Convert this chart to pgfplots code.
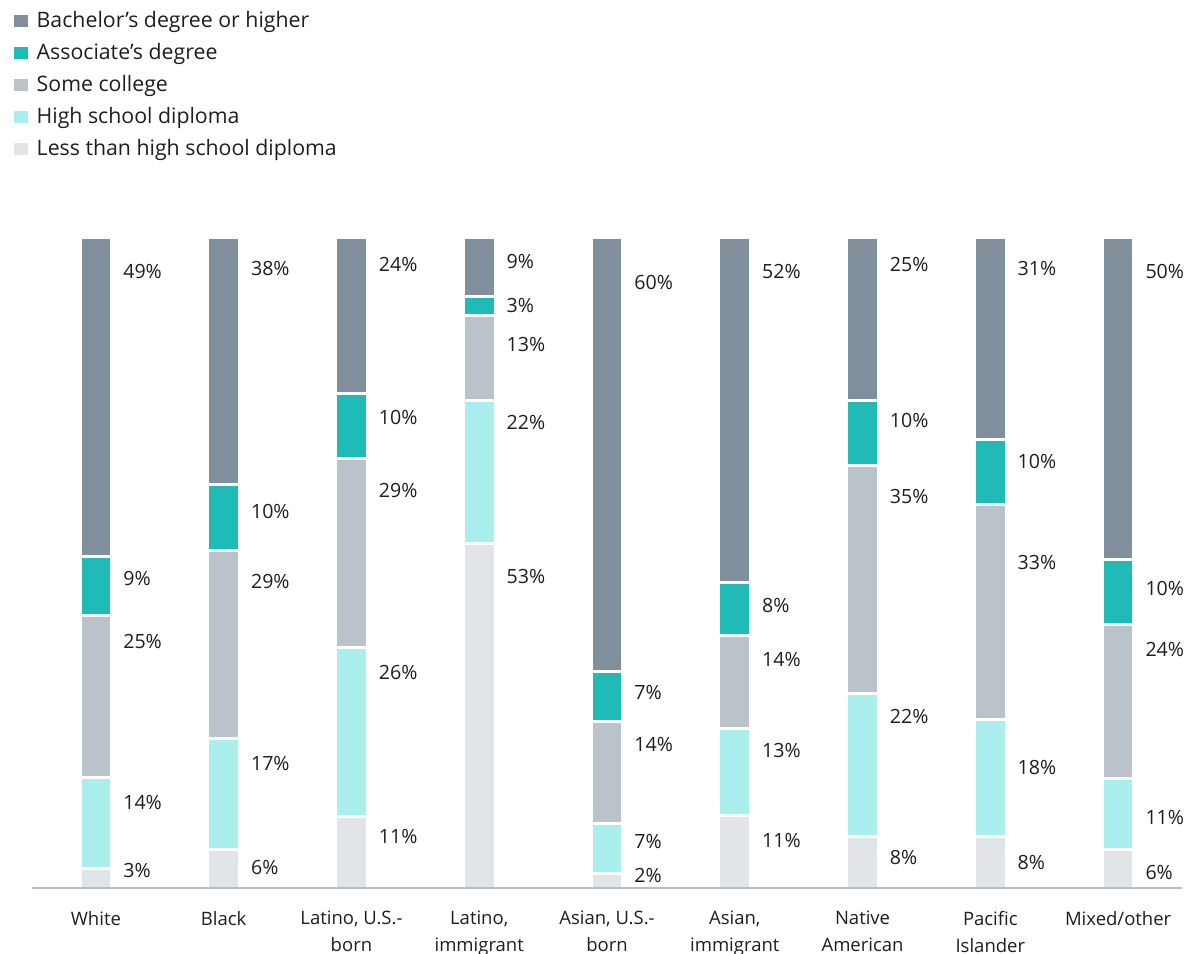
\documentclass[border=0pt]{standalone}
\usepackage{fontspec}
\setmainfont{Open Sans}
\usepackage{pgfplots}
\usepackage{pgfplotstable}
\pgfplotsset{compat=1.18}
\definecolor{cBach}{HTML}{7F909C}
\definecolor{cAssoc}{HTML}{20BBB7}
\definecolor{cSome}{HTML}{B9C3C9}
\definecolor{cHS}{HTML}{AAEFEE}
\definecolor{cLess}{HTML}{E2E5E8}
\definecolor{cAxis}{HTML}{B4BFC6}
\definecolor{cText}{HTML}{1E1E1E}

% bar heights (segments normalised to 100 per bar, as drawn)
\pgfplotstableread{
x less hs some assoc bach
0 3 14 25 9 49
1 6 17 29 10 38
2 11 26 29 10 24
3 53 22 13 3 9
4 2.22 7.78 15.56 7.78 66.67
5 11.22 13.27 14.29 8.16 53.06
6 8 22 35 10 25
7 8 18 33 10 31
8 5.94 10.89 23.76 9.91 49.50
}\bars

% printed labels and their vertical positions
\pgfplotstableread{
x y lab
0 94.77 49
0 47.54 9
0 37.85 25
0 13.23 14
0 2.62 3
1 95.38 38
1 57.89 10
1 47.12 29
1 19.08 17
1 3.08 6
2 95.85 24
2 72.35 10
2 61.12 29
2 33.08 26
2 7.89 11
3 96.31 9
3 89.69 3
3 83.54 13
3 71.69 22
3 47.85 53
4 93.23 60
4 30.15 7
4 22.15 14
4 7.08 7
4 1.85 2
5 94.77 52
5 43.43 8
5 35.23 14
5 21.12 13
5 7.38 11
6 95.85 25
6 72.00 10
6 60.20 35
6 26.35 22
6 4.62 8
7 95.23 31
7 65.69 10
7 50.05 33
7 18.51 18
7 3.85 8
8 94.92 50
8 46.15 10
8 36.62 24
8 10.77 11
8 2.35 6
}\labs

\pgfplotsset{
  sq/.style={legend image code/.code={\fill[##1,draw=none] (0pt,-2.45pt) rectangle (7pt,3.55pt); \path (10.6pt,0pt);}},
  seg/.style={fill=#1, draw=white, line width=1.5pt, sq},
}

\begin{document}
\begin{tikzpicture}
\useasboundingbox (-16pt,-32.5pt) rectangle (582.5pt,444pt);
\begin{axis}[
  at={(0pt,0pt)}, anchor=south west,
  scale only axis, width=575pt, height=325pt,
  xmin=-0.5, xmax=8.5, ymin=0, ymax=100,
  ybar stacked, bar width=15.8pt,
  hide y axis,
  axis x line*=bottom,
  x axis line style={draw=none},
  xtick={0,...,8},
  xticklabels={White, Black, {Latino, U.S.-\\born}, {Latino,\\immigrant}, {Asian, U.S.-\\born}, {Asian,\\immigrant}, {Native\\American}, {Pacific\\Islander}, Mixed/other},
  xticklabel style={align=center, anchor=north, inner sep=0pt,
    yshift=-11.4pt, font=\fontsize{9.25}{13.5}\selectfont, text=cText},
  major tick length=0pt,
  reverse legend,
  legend cell align=left,
  legend style={at={(-0.01565,1.3488)}, anchor=north west, draw=none, fill=none,
    inner sep=0pt, outer sep=0pt, row sep=5.6pt,
    font=\fontsize{10.65}{13}\selectfont, text=cText,
    nodes={inner sep=0pt, text height=7.9pt, text depth=2.5pt}},
]
\addplot[seg=cLess] table[x=x,y=less]{\bars};
\addlegendentry{Less than high school diploma}
\addplot[seg=cHS] table[x=x,y=hs]{\bars};
\addlegendentry{High school diploma}
\addplot[seg=cSome] table[x=x,y=some]{\bars};
\addlegendentry{Some college}
\addplot[seg=cAssoc] table[x=x,y=assoc]{\bars};
\addlegendentry{Associate's degree}
\addplot[seg=cBach] table[x=x,y=bach]{\bars};
\addlegendentry{Bachelor's degree or higher}
\end{axis}
\begin{axis}[
  at={(0pt,0pt)}, anchor=south west,
  scale only axis, width=575pt, height=325pt,
  xmin=-0.5, xmax=8.5, ymin=0, ymax=100,
  hide axis, clip=false,
]
\addplot[only marks, mark=*, mark size=0pt, mark options={draw=none, fill=none},
  point meta=explicit symbolic,
  nodes near coords={\pgfplotspointmeta\%},
  nodes near coords style={anchor=west, inner sep=0pt, xshift=13.5pt,
    font=\fontsize{9.8}{12}\selectfont, text=cText}]
  table[x=x, y=y, meta=lab]{\labs};
\draw[cAxis, line width=1pt] (axis cs:-0.5,0) -- (axis cs:8.5,0);
\end{axis}
\end{tikzpicture}
\end{document}
